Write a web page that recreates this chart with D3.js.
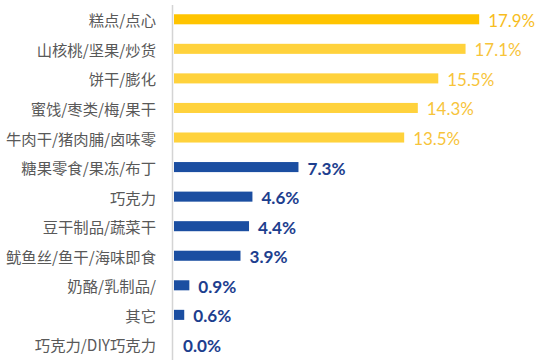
<!DOCTYPE html>
<html><head><meta charset="utf-8">
<script src="https://cdn.jsdelivr.net/npm/d3@7"></script>
<style>body{margin:0;background:#fff;}svg{display:block;}</style>
</head><body>
<svg id="c" width="546" height="360"></svg>
<script>
const categories = ["糕点/点心","山核桃/坚果/炒货","饼干/膨化","蜜饯/枣类/梅/果干","牛肉干/猪肉脯/卤味零","糖果零食/果冻/布丁","巧克力","豆干制品/蔬菜干","鱿鱼丝/鱼干/海味即食","奶酪/乳制品/","其它","巧克力/DIY巧克力"];
const values = [17.9,17.1,15.5,14.3,13.5,7.3,4.6,4.4,3.9,0.9,0.6,0.0];
const labels = ["17.9%","17.1%","15.5%","14.3%","13.5%","7.3%","4.6%","4.4%","3.9%","0.9%","0.6%","0.0%"];
const groups = ["top1","top","top","top","top","low","low","low","low","low","low","low"];

const barColor = {top1:"#FFC400", top:"#FFD23C", low:"#1B4EA1"};
const textColor = {top1:"#F7BD1E", top:"#F7C43A", low:"#1D3E8E"};

const svg = d3.select("#c");
const x = d3.scaleLinear().domain([0,18]).range([174, 480.9]);
const y = d3.scaleBand().domain(categories).range([4.5, 359.2]).paddingInner(0.66).paddingOuter(0.33);

function fitSize(txt, family, weight, target){
  const t = svg.append("text").attr("font-family",family).attr("font-weight",weight)
    .attr("font-size",100).text(txt);
  const w = t.node().getComputedTextLength();
  t.remove();
  return 100*target/w;
}
const catFont = "'Noto Sans CJK SC', sans-serif";
const valFont = "Lato, sans-serif";
const catSize = Math.min(17, fitSize("牛肉干/猪肉脯/卤味零", catFont, 400, 150));
const ySize = fitSize("17.9%", valFont, 400, 47);
const bSize = fitSize("4.6%", valFont, 700, 38);

svg.append("line").attr("x1",172.5).attr("x2",172.5).attr("y1",5).attr("y2",360)
  .attr("stroke","#d4d4d4").attr("stroke-width",1.5);

svg.selectAll("rect.bar").data(categories).join("rect")
  .attr("x", x(0))
  .attr("y", d=>y(d))
  .attr("width", (d,i)=>x(values[i])-x(0))
  .attr("height", y.bandwidth())
  .attr("fill", (d,i)=>barColor[groups[i]]);

svg.selectAll("text.cat").data(categories).join("text")
  .attr("x",156).attr("y", d=>y(d)+y.bandwidth()/2)
  .attr("text-anchor","end").attr("dominant-baseline","central")
  .attr("font-family",catFont).attr("font-size",catSize)
  .attr("fill","#595959").text(d=>d);

svg.selectAll("text.val").data(categories).join("text")
  .attr("x",(d,i)=>x(values[i])+9).attr("y", d=>y(d)+y.bandwidth()/2+1)
  .attr("dominant-baseline","central")
  .attr("font-family",valFont)
  .attr("font-size",(d,i)=>groups[i]==="low"?bSize:ySize)
  .attr("font-weight",(d,i)=>groups[i]==="low"?700:400)
  .attr("fill",(d,i)=>textColor[groups[i]]).text((d,i)=>labels[i]);
</script>
</body></html>
